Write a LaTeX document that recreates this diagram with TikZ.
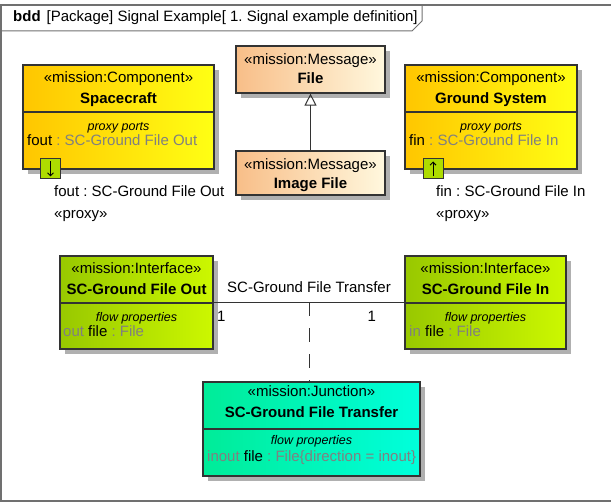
\documentclass[tikz,border=0pt]{standalone}
\usepackage{fontspec}
\setmainfont{Liberation Sans}
\usetikzlibrary{arrows.meta, shadows}

\definecolor{compL}{HTML}{FFC600}
\definecolor{compR}{HTML}{FFFF14}
\definecolor{msgL}{HTML}{F8BE88}
\definecolor{msgR}{HTML}{FFF8DE}
\definecolor{ifL}{HTML}{98C800}
\definecolor{ifR}{HTML}{CCF800}
\definecolor{jnL}{HTML}{00EC98}
\definecolor{jnR}{HTML}{00FFDC}
\definecolor{portfill}{HTML}{AEDC00}
\definecolor{shadowgray}{HTML}{B0B0B0}
\definecolor{boxline}{HTML}{333333}
\definecolor{framegray}{HTML}{707070}
\definecolor{txtgray}{HTML}{808080}

\begin{document}
\begin{tikzpicture}[x=1pt, y=-1pt, font=\fontsize{15}{18}\selectfont\frenchspacing,
  block/.style={draw=boxline, line width=1.2pt, inner sep=0pt,
    drop shadow={shadow xshift=5pt, shadow yshift=-5pt, fill=shadowgray, opacity=1}},
  comp/.style={block, left color=compL, right color=compR},
  msg/.style={block, left color=msgL, right color=msgR},
  iface/.style={block, left color=ifL, right color=ifR},
  junction/.style={block, left color=jnL, right color=jnR},
  boxedge/.style={draw=boxline, line width=1.2pt},
  ster/.style={anchor=base, inner sep=0pt},
  bname/.style={anchor=base, inner sep=0pt, font=\fontsize{15}{18}\selectfont\bfseries},
  capt/.style={anchor=base, inner sep=0pt, font=\fontsize{12.5}{15}\selectfont\itshape},
  entry/.style={anchor=base west, inner sep=0pt},
  portbox/.style={draw=boxline, fill=portfill, line width=1pt, minimum size=20pt, inner sep=0pt},
  portarrow/.style={line width=1pt, -{Straight Barb[length=3pt, width=6pt]}},
  general/.style={draw=boxline, line width=1pt, -{Triangle[open, length=12pt, width=12pt]}},
  assoc/.style={draw=boxline, line width=1pt},
  depend/.style={draw=boxline, line width=1pt, dash pattern=on 14pt off 12pt},
]

\useasboundingbox (0,0) rectangle (611,502);

% --- diagram frame and header tab ------------------------------------------
\draw[framegray, line width=1.5pt] (1,5) rectangle (616,501);
\draw[framegray, line width=1pt] (1,31) -- (412,31) -- (422,21) -- (422,5);
\node[entry] (hdr) at (13,22)
  {\textbf{bdd}\hspace{6pt}[Package] Signal Example[ 1. Signal example definition]};

% ---------- Blocks ----------
\node[comp, minimum width=191pt, minimum height=104pt] (sc) at (118.5,117) {};
\node[comp, minimum width=172pt, minimum height=104pt] (gs) at (491,117) {};

\node[msg, minimum width=149pt, minimum height=47pt] (file) at (310.5,69.5) {};
\node[msg, minimum width=149pt, minimum height=44pt] (img) at (310.5,173) {};

\node[iface, minimum width=153pt, minimum height=93pt] (ifout) at (136.5,302.5) {};
\node[iface, minimum width=161pt, minimum height=93pt] (ifin) at (485.5,302.5) {};
\node[junction, minimum width=217pt, minimum height=94pt] (junc) at (311.5,429) {};

% compartment lines
\foreach \b/\y in {sc/112, gs/112, ifout/303, ifin/303, junc/429}
  \draw[boxedge] (\b.west |- 0,\y) -- (\b.east |- 0,\y);

% stereotypes and names
\foreach \b/\kind/\title/\ys/\yn in {
    sc/Component/Spacecraft/83/104,
    gs/Component/Ground System/83/104,
    file/Message/File/65/84,
    img/Message/Image File/170/189,
    ifout/Interface/SC-Ground File Out/274/295,
    ifin/Interface/SC-Ground File In/274/295,
    junc/Junction/SC-Ground File Transfer/397/418} {
  \node[ster] (\b-ster) at (\b.north |- 0,\ys) {«mission:\kind»};
  \node[bname] (\b-name) at (\b.north |- 0,\yn) {\title};
}

% compartment headings
\foreach \b/\captxt/\y in {sc/proxy ports/131, gs/proxy ports/131,
    ifout/flow properties/322, ifin/flow properties/322, junc/flow properties/445}
  \node[capt] (\b-capt) at (\b.north |- 0,\y) {\captxt};

% compartment entries (\color eats a leading space, so spaces stay outside)
\node[entry] (sc-prop) at (27,146) {fout \textcolor{txtgray}{: SC-Ground File Out}};
\node[entry] (gs-prop) at (409,146) {fin \textcolor{txtgray}{: SC-Ground File In}};
\node[entry] (ifout-prop) at (63,337) {\textcolor{txtgray}{out} file \textcolor{txtgray}{: File}};
\node[entry] (ifin-prop) at (409,337) {\textcolor{txtgray}{in} file \textcolor{txtgray}{: File}};
\node[entry] (junc-prop) at (207,462)
  {\textcolor{txtgray}{inout} file \textcolor{txtgray}{: File\{direction = inout\}}};

% ---------- Proxy ports ----------
\node[portbox] (fout) at (50.5,169) {};
\node[portbox] (fin) at (433,169) {};
\draw[portarrow] ([yshift=-3pt]fout.north) -- ([yshift=3pt]fout.south);
\draw[portarrow] ([yshift=3pt]fin.south) -- ([yshift=-3pt]fin.north);

\node[entry] (fout-lbl) at (54,197) {fout : SC-Ground File Out};
\node[entry] (fout-st) at (54,219) {«proxy»};
\node[entry] (fin-lbl) at (436,197) {fin : SC-Ground File In};
\node[entry] (fin-st) at (436,219) {«proxy»};

% ---------- Relations ----------
\draw[general] (img) -- (file);

\draw[assoc] (ifout.east)
  -- node[midway, anchor=base, yshift=10pt, inner sep=0pt] (assoc-name) {SC-Ground File Transfer}
     node[pos=0, anchor=base west, xshift=3pt, yshift=-19pt, inner sep=0pt] (mult-out) {1}
     node[pos=1, anchor=base east, xshift=-28pt, yshift=-19pt, inner sep=0pt] (mult-in) {1}
     coordinate[midway] (assoc-mid)
  (ifin.west);

\draw[depend] (assoc-mid) -- (assoc-mid |- junc.north);

\end{tikzpicture}
\end{document}
